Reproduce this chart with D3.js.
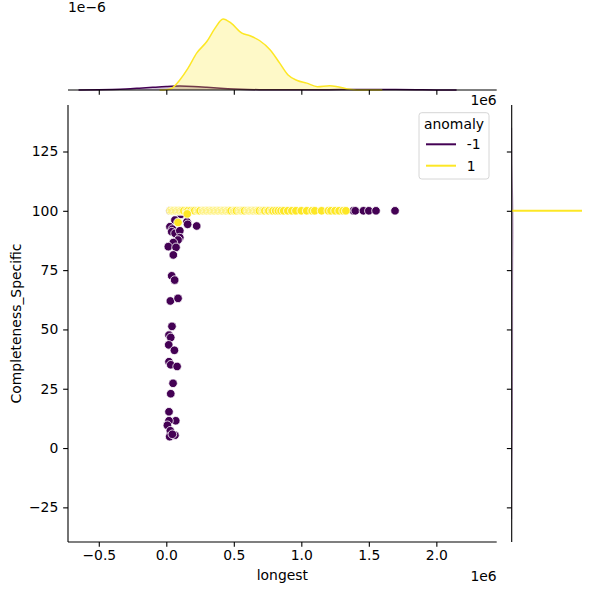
<!DOCTYPE html>
<html><head><meta charset="utf-8">
<script src="https://cdn.jsdelivr.net/npm/d3@7"></script>
<style>body{margin:0;background:#fff}svg{font-family:"DejaVu Sans",sans-serif}</style>
</head><body><svg id="c" width="600" height="600"></svg>
<script>
// ---- data (x in units of 1e6) ----
const xTicks = [-0.5, 0, 0.5, 1, 1.5, 2];
const yTicks = [-25, 0, 25, 50, 75, 100, 125];
const hueLabels = ["-1", "1"];
const hueColors = ["#440154", "#fde725"];

const anomX = [0.028,0.107,0.153,0.158,0.225,0.027,0.045,0.040,0.065,0.100,0.100,0.087,0.052,0.015,0.072,0.052,0.040,0.062,0.030,0.087,0.042,0.020,0.033,0.018,0.060,0.020,0.033,0.080,0.050,0.033,0.020,0.070,0.020,0.008,0.030,0.025,0.064,0.045,0.064,1.385,1.40,1.46,1.50,1.553,1.694];
const anomY = [100,98.5,95.4,94.3,93.6,93.3,92.3,91.2,90.5,91.6,88.7,87.7,86.6,84.9,84.6,81.4,72.6,70.8,62,63.1,51.3,47.6,46.6,43.5,41.2,36.4,35.1,34.4,27.3,22.9,15.3,11.5,11.5,9.6,7.3,4.8,5.4,5.8,96.1,100,100,100,100,100,100];

const normX = [0.03,0.04,0.05,0.06,0.07,0.08,0.09,0.10,0.11,0.12,0.13,0.15,0.16,0.18,0.20,0.21,0.23,0.24,0.25,0.27,0.28,0.29,0.30,0.31,0.32,0.33,0.34,0.35,0.36,0.37,0.38,0.39,0.40,0.41,0.42,0.43,0.44,0.45,0.46,0.47,0.48,0.50,0.51,0.52,0.54,0.55,0.56,0.57,0.58,0.60,0.61,0.62,0.63,0.64,0.65,0.66,0.67,0.68,0.69,0.71,0.72,0.73,0.75,0.76,0.78,0.79,0.81,0.83,0.85,0.87,0.90,0.93,0.96,1.00,1.04,1.08,1.10,1.15,1.20,1.22,1.25,1.28,1.31,1.33,0.087,0.155];
const normY = [100,100,100,100,100,100,100,100,100,100,100,100,100,100,100,100,100,100,100,100,100,100,100,100,100,100,100,100,100,100,100,100,100,100,100,100,100,100,100,100,100,100,100,100,100,100,100,100,100,100,100,100,100,100,100,100,100,100,100,100,100,100,100,100,100,100,100,100,100,100,100,100,100,100,100,100,100,100,100,100,100,100,100,100,95.1,98.7];

// top marginal KDE (density, units of 1e-6)
const kdeGridNorm = [-0.05,0.0,0.04,0.10,0.16,0.225,0.30,0.36,0.42,0.48,0.56,0.62,0.69,0.77,0.84,0.90,0.97,1.04,1.12,1.21,1.27,1.36,1.41,1.6];
const kdeNorm = [0,0.006,0.032,0.19,0.41,0.70,0.92,1.17,1.35,1.27,1.08,1.03,0.94,0.76,0.51,0.29,0.18,0.13,0.063,0.082,0.063,0.013,0.002,0];
const kdeGridAnom = [-0.65,-0.5,-0.4,-0.3,-0.2,-0.1,0.0,0.1,0.2,0.3,0.4,0.5,0.6,0.7,0.8,1.0,1.2,1.4,1.55,1.7,1.85,2.0,2.15];
const kdeAnom = [0,0.004,0.01,0.019,0.034,0.051,0.066,0.074,0.068,0.053,0.034,0.019,0.010,0.006,0.004,0.004,0.006,0.009,0.010,0.008,0.005,0.002,0];
// right marginal KDE (density along Completeness_Specific)
const kdeGridY = [-30,-10,0,10,20,30,40,50,60,70,80,90,100,110,120,135];
const kdeAnomY = [0,0.003,0.007,0.010,0.011,0.012,0.013,0.013,0.013,0.014,0.016,0.019,0.018,0.010,0.004,0];
const spikeY = 100, spikeDensity = 1.0;

// ---- layout ----
const svg = d3.select("#c");
const M = {l: 68, r: 496.7, t: 105, b: 542};
const TM = {t: 14.7, b: 90};
const RM = {l: 511.7, r: 587};
const fs = 13.9, tickLen = 4.86, sw = 1.1;

const x = d3.scaleLinear().domain([-0.728, 2.447]).range([M.l, M.r]);
const y = d3.scaleLinear().domain([-39.6, 144.6]).range([M.b, M.t]);
const yTop = d3.scaleLinear().domain([0, 1.43]).range([TM.b, TM.t]);
const xRight = d3.scaleLinear().domain([0, 1.071]).range([RM.l, RM.r]);

const fmtX = d => d3.format(".1f")(d).replace("-", "\u2212");
const fmtY = d => String(d).replace("-", "\u2212");

// ---- top marginal ----
const gTop = svg.append("g");
function topArea(grid, dens, color) {
  const pts = grid.map((g, i) => [g, dens[i]]);
  gTop.append("path").datum(pts)
    .attr("d", d3.area().x(d => x(d[0])).y0(yTop(0)).y1(d => yTop(d[1])).curve(d3.curveMonotoneX))
    .attr("fill", color).attr("fill-opacity", 0.25);
  gTop.append("path").datum(pts)
    .attr("d", d3.line().x(d => x(d[0])).y(d => yTop(d[1])).curve(d3.curveMonotoneX))
    .attr("fill", "none").attr("stroke", color).attr("stroke-width", 1.5);
}
topArea(kdeGridAnom, kdeAnom, hueColors[0]);
topArea(kdeGridNorm, kdeNorm, hueColors[1]);
const axTop = gTop.append("g").attr("transform", `translate(0,${TM.b})`)
  .call(d3.axisBottom(x).tickValues(xTicks).tickSize(tickLen).tickFormat(""));
axTop.select(".domain").attr("d", `M${M.l},0H${M.r}`).attr("stroke-width", sw);
axTop.selectAll(".tick line").attr("stroke-width", sw);
svg.append("text").attr("x", M.l).attr("y", 12).attr("font-size", fs).text("1e\u22126");
svg.append("text").attr("x", M.r).attr("y", 105).attr("text-anchor", "end").attr("font-size", fs).text("1e6");

// ---- right marginal ----
const gR = svg.append("g");
const ptsR = kdeGridY.map((g, i) => [g, kdeAnomY[i]]);
gR.append("path").datum(ptsR)
  .attr("d", d3.area().y(d => y(d[0])).x0(xRight(0)).x1(d => xRight(d[1])).curve(d3.curveMonotoneY))
  .attr("fill", hueColors[0]).attr("fill-opacity", 0.25);
gR.append("path").datum(ptsR)
  .attr("d", d3.line().y(d => y(d[0])).x(d => xRight(d[1])).curve(d3.curveMonotoneY))
  .attr("fill", "none").attr("stroke", hueColors[0]).attr("stroke-opacity", 0.35).attr("stroke-width", 1);
gR.append("line").attr("x1", xRight(0)).attr("x2", xRight(spikeDensity))
  .attr("y1", y(spikeY)).attr("y2", y(spikeY))
  .attr("stroke", hueColors[1]).attr("stroke-width", 2);
const axR = gR.append("g").attr("transform", `translate(${RM.l},0)`)
  .call(d3.axisLeft(y).tickValues(yTicks).tickSize(tickLen).tickFormat(""));
axR.select(".domain").attr("d", `M0,${M.t}V${M.b}`).attr("stroke-width", sw);
axR.selectAll(".tick line").attr("stroke-width", sw);

// ---- main scatter ----
const gM = svg.append("g");
const pts = anomX.map((v, i) => ({x: v, y: anomY[i], h: 0}))
  .concat(normX.map((v, i) => ({x: v, y: normY[i], h: 1})));
gM.selectAll("circle").data(pts).join("circle")
  .attr("cx", d => x(d.x)).attr("cy", d => y(d.y)).attr("r", 4.3)
  .attr("fill", d => hueColors[d.h]).attr("stroke", "#fff").attr("stroke-width", 0.8);

const axX = gM.append("g").attr("transform", `translate(0,${M.b})`)
  .call(d3.axisBottom(x).tickValues(xTicks).tickSize(tickLen).tickPadding(3.5).tickFormat(fmtX));
axX.select(".domain").attr("d", `M${M.l},0H${M.r}`).attr("stroke-width", sw);
axX.selectAll(".tick line").attr("stroke-width", sw);
axX.selectAll("text").attr("font-size", fs).attr("font-family", "DejaVu Sans").attr("fill", "#000");
const axY = gM.append("g").attr("transform", `translate(${M.l},0)`)
  .call(d3.axisLeft(y).tickValues(yTicks).tickSize(tickLen).tickPadding(4.9).tickFormat(fmtY));
axY.select(".domain").attr("d", `M0,${M.t}V${M.b}`).attr("stroke-width", sw);
axY.selectAll(".tick line").attr("stroke-width", sw);
axY.selectAll("text").attr("font-size", fs).attr("font-family", "DejaVu Sans").attr("fill", "#000");

svg.append("text").attr("x", (M.l + M.r) / 2).attr("y", 580).attr("text-anchor", "middle").attr("font-size", fs).text("longest");
svg.append("text").attr("x", M.r).attr("y", 581).attr("text-anchor", "end").attr("font-size", fs).text("1e6");
svg.append("text").attr("transform", `translate(20.5,${(M.t + M.b) / 2}) rotate(-90)`)
  .attr("text-anchor", "middle").attr("font-size", fs).text("Completeness_Specific");

// ---- legend ----
const lg = svg.append("g");
lg.append("rect").attr("x", 419).attr("y", 112.7).attr("width", 70).attr("height", 66.3)
  .attr("rx", 2.8).attr("fill", "#fff").attr("fill-opacity", 0.8).attr("stroke", "#d6d6d6").attr("stroke-width", 1);
lg.append("text").attr("x", 454).attr("y", 129).attr("text-anchor", "middle").attr("font-size", fs).text("anomaly");
hueLabels.forEach((lab, i) => {
  const yy = 144.3 + i * 21.4;
  lg.append("line").attr("x1", 426).attr("x2", 456).attr("y1", yy).attr("y2", yy)
    .attr("stroke", hueColors[i]).attr("stroke-width", 2);
  lg.append("text").attr("x", 466.7).attr("y", yy + 5).attr("font-size", fs).text(lab);
});
</script></body></html>
